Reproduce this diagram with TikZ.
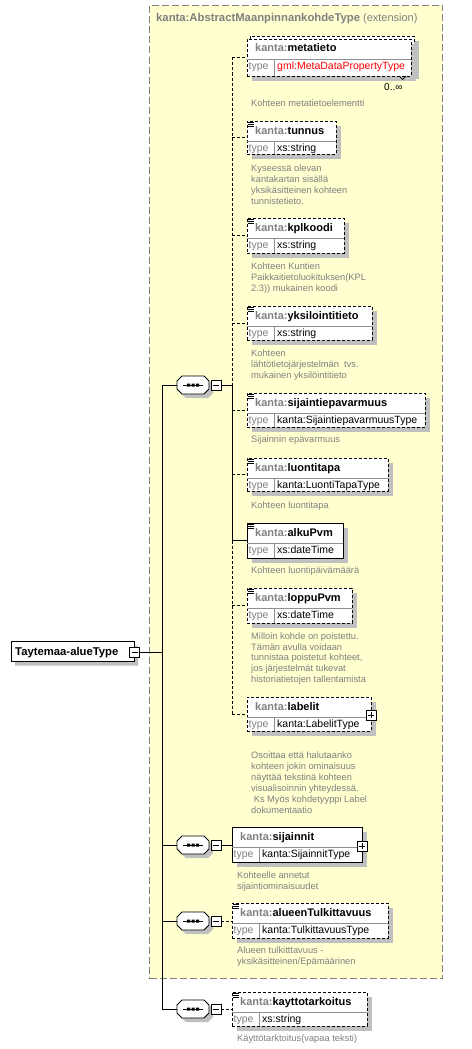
\documentclass[tikz,border=0pt]{standalone}
\usepackage{fontspec}
\setmainfont{Liberation Sans}
\usetikzlibrary{shapes.misc}
\definecolor{bgyel}{HTML}{FFFFD0}
\definecolor{shad}{HTML}{C0C0C0}
\definecolor{gtx}{HTML}{808080}
\definecolor{divc}{HTML}{909090}
\definecolor{redtype}{HTML}{FF0000}
\newcommand{\fname}{\fontsize{11}{13}\selectfont\bfseries}
\newcommand{\ftype}{\fontsize{10.5}{12}\selectfont}
\newcommand{\fdesc}{\fontsize{9.3}{11}\selectfont}
\newcommand{\dstrut}{\rule{0pt}{8.5pt}}
\tikzset{
  conn/.style={line width=0.9pt},
  optline/.style={conn, dash pattern=on 3pt off 2pt},
  elbox/.style={draw, fill=white, line width=0.9pt, inner sep=0pt, outer sep=0pt, anchor=north west},
  optbox/.style={elbox, dash pattern=on 3pt off 2pt},
  divline/.style={draw=divc, line width=0.7pt},
  desc/.style={text=gtx, font=\fdesc, align=left, anchor=north west, inner sep=0pt},
  iconbox/.style={draw, fill=white, line width=0.8pt, minimum size=10pt, inner sep=0pt, outer sep=0pt},
  compo/.style={minimum width=32pt, minimum height=18pt, inner sep=0pt, outer sep=0pt},
}
% element: id, x, ytop, width, height, boxstyle, name, type, typecolour
\newcommand{\xel}[9]{%
  \fill[shad] (#2+5,#3+5) rectangle (#2+#4+5,#3+#5+5);
  \node[#6, minimum width=#4pt, minimum height=#5pt] (#1) at (#2,#3) {};
  \draw[divline] (#2,#3+20) -- (#2+#4,#3+20) (#2+27,#3+20) -- (#2+27,#3+#5);
  \node[anchor=base west, inner sep=0pt, font=\fname] (#1-nm) at (#2+8,#3+13) {\textcolor{gtx}{kanta:}#7};
  \node[anchor=base west, inner sep=0pt, font=\ftype, text=gtx] (#1-tl) at (#2+1.5,#3+30.5) {type};
  \node[anchor=base west, inner sep=0pt, font=\ftype, text=#9] (#1-tv) at (#2+30,#3+30.5) {#8};
}
\newcommand{\docicon}[2]{\draw[line width=0.7pt] (#1+1,#2+1)--(#1+6.5,#2+1) (#1+1,#2+3)--(#1+6.5,#2+3) (#1+1,#2+5)--(#1+6.5,#2+5);}
\newcommand{\plusbox}[3]{\node[iconbox] (#1) at (#2,#3) {}; \draw[line width=0.8pt] (#2-3,#3)--(#2+3,#3) (#2,#3-3)--(#2,#3+3);}
\newcommand{\minusbox}[3]{\node[iconbox] (#1) at (#2,#3) {}; \draw[line width=0.8pt] (#2-3,#3)--(#2+3,#3);}
\newcommand{\octpath}[2]{(#1-11,#2-9) -- (#1+11,#2-9) -- (#1+16,#2-4) -- (#1+16,#2+4) -- (#1+11,#2+9) -- (#1-11,#2+9) -- (#1-16,#2+4) -- (#1-16,#2-4) -- cycle}
% compositor: id, cx, cy
\newcommand{\seqc}[3]{%
  \fill[shad] \octpath{#2+4}{#3+4};
  \draw[fill=white, line width=0.9pt] \octpath{#2}{#3};
  \node[compo] (#1) at (#2,#3) {};
  \draw[line width=0.9pt] (#2-10,#3) -- (#2+10,#3);
  \fill (#2-6,#3-1.5) rectangle ++(3,3) (#2-1.5,#3-1.5) rectangle ++(3,3) (#2+3,#3-1.5) rectangle ++(3,3);
  \minusbox{#1m}{#2+23}{#3}
}
\begin{document}
\begin{tikzpicture}[x=1pt,y=-1pt]
\useasboundingbox (0,0) rectangle (471,1049);
\fill[white] (0,0) rectangle (471,1049);
% extension area
\node[draw=gtx, fill=bgyel, line width=1pt, dash pattern=on 7pt off 3pt, anchor=north west, minimum width=293pt, minimum height=973pt, inner sep=0pt] (ext) at (149,5) {};
\node[anchor=base west, inner sep=0pt, text=gtx] (title) at (156,22) {\fontsize{11.3}{13}\selectfont\bfseries kanta:AbstractMaanpinnankohdeType\fontsize{11}{13}\selectfont\mdseries\ (extension)};
% junction coordinates
\coordinate (v1top) at (162,385);
\coordinate (v1bot) at (162,1009);
\coordinate (v2) at (232,385);
% root
\node[chamfered rectangle, chamfered rectangle corners={north west,south west}, chamfered rectangle xsep=3pt, fill=shad, minimum width=123pt, minimum height=20pt, inner sep=0pt, anchor=north west] (root-sh) at (15,645.5) {};
\node[chamfered rectangle, chamfered rectangle corners={north west,south west}, chamfered rectangle xsep=3pt, draw, fill=white, line width=0.9pt, minimum width=123pt, minimum height=20pt, inner sep=0pt, anchor=north west] (root) at (11,641.5) {};
\node[anchor=base west, inner sep=0pt, font=\fontsize{11.3}{13}\selectfont\bfseries] (roottxt) at (15,655.5) {Taytemaa-alueType};
\minusbox{rootm}{134.5}{652}
\draw[conn] (rootm.east) -- (rootm.east -| v1top);
\draw[conn] (v1top) -- (v1bot);
% compositors
\seqc{seq1}{193}{385}
\seqc{seq2}{193}{845}
\seqc{seq3}{193}{921}
\seqc{seq4}{193}{1009}
\draw[conn] (seq1.west -| v1top) -- (seq1.west);
\draw[conn] (seq2.west -| v1top) -- (seq2.west);
\draw[conn] (seq3.west -| v1top) -- (seq3.west);
\draw[conn] (seq4.west -| v1top) -- (seq4.west);
\draw[conn] (seq1m.east) -- (v2);
% elements in sequence 1
\fill[shad] (255,41) rectangle (419,79);
\node[optbox, minimum width=164pt, minimum height=37pt] (metaback) at (250,36) {};
\xel{metatieto}{247}{39}{164}{37}{optbox}{metatieto}{gml:MetaDataPropertyType}{redtype}
\draw[line width=0.7pt] (399,76) -- (402.5,79.5) -- (406,76);
\node[anchor=base west, inner sep=0pt, font=\fontsize{10}{12}\selectfont] (mult) at (384,90) {0..∞};
\xel{tunnus}{247}{121}{89}{33}{optbox}{tunnus}{xs:string}{black}\docicon{247}{121}
\xel{kplkoodi}{247}{218}{97}{35}{optbox}{kplkoodi}{xs:string}{black}\docicon{247}{218}
\xel{yksilointitieto}{247}{306}{125}{34}{optbox}{yksilointitieto}{xs:string}{black}\docicon{247}{306}
\xel{sijaintiepavarmuus}{247}{393}{178}{34}{optbox}{sijaintiepavarmuus}{kanta:SijaintiepavarmuusType}{black}\docicon{247}{393}
\xel{luontitapa}{247}{458}{141}{33}{optbox}{luontitapa}{kanta:LuontiTapaType}{black}\docicon{247}{458}
\xel{alkuPvm}{247}{523}{96}{35}{elbox}{alkuPvm}{xs:dateTime}{black}\docicon{247}{523}
\xel{loppuPvm}{247}{588}{105}{35}{optbox}{loppuPvm}{xs:dateTime}{black}\docicon{247}{588}
\xel{labelit}{247}{697}{124}{34}{optbox}{labelit}{kanta:LabelitType}{black}
\plusbox{labelitp}{371}{715}
% connectors of sequence 1
\draw[optline] (metatieto.west -| v2) -- (v2);
\draw[conn] (v2) -- (alkuPvm.west -| v2);
\draw[optline] (alkuPvm.west -| v2) -- (labelit.west -| v2);
\draw[optline] (metatieto.west -| v2) -- (metatieto.west);
\draw[optline] (tunnus.west -| v2) -- (tunnus.west);
\draw[optline] (kplkoodi.west -| v2) -- (kplkoodi.west);
\draw[optline] (yksilointitieto.west -| v2) -- (yksilointitieto.west);
\draw[optline] (sijaintiepavarmuus.west -| v2) -- (sijaintiepavarmuus.west);
\draw[optline] (luontitapa.west -| v2) -- (luontitapa.west);
\draw[conn] (alkuPvm.west -| v2) -- (alkuPvm.west);
\draw[optline] (loppuPvm.west -| v2) -- (loppuPvm.west);
\draw[optline] (labelit.west -| v2) -- (labelit.west);
% other elements
\xel{sijainnit}{232}{827}{130}{35}{elbox}{sijainnit}{kanta:SijainnitType}{black}
\plusbox{sijainnitp}{362}{846}
\xel{alueenTulkittavuus}{232}{903}{156}{35}{optbox}{alueenTulkittavuus}{kanta:TulkittavuusType}{black}\docicon{232}{903}
\xel{kayttotarkoitus}{232}{992}{135}{34}{optbox}{kayttotarkoitus}{xs:string}{black}\docicon{232}{992}
\draw[conn] (seq2m.east) -- (seq2m.east -| sijainnit.west);
\draw[optline] (seq3m.east) -- (seq3m.east -| alueenTulkittavuus.west);
\draw[optline] (seq4m.east) -- (seq4m.east -| kayttotarkoitus.west);
% descriptions
\node[desc] (d1) at (251,97.5) {\dstrut Kohteen metatietoelementti};
\node[desc] (d2) at (251,162.5) {\dstrut Kyseessä olevan\\kantakartan sisällä\\yksikäsitteinen kohteen\\tunnistetieto.};
\node[desc] (d3) at (251,260.5) {\dstrut Kohteen Kuntien\\Paikkaitietoluokituksen(KPL\\2.3)) mukainen koodi};
\node[desc] (d4) at (251,347.5) {\dstrut Kohteen\\lähtötietojärjestelmän\ \ tvs.\\mukainen yksilöintitieto};
\node[desc] (d5) at (251,433.5) {\dstrut Sijainnin epävarmuus};
\node[desc] (d6) at (251,499.5) {\dstrut Kohteen luontitapa};
\node[desc] (d7) at (251,564.5) {\dstrut Kohteen luontipäivämäärä};
\node[desc, font=\fontsize{9.3}{10.8}\selectfont] (d8) at (251,630.5) {\dstrut Milloin kohde on poistettu.\\Tämän avulla voidaan\\tunnistaa poistetut kohteet,\\jos järjestelmät tukevat\\historiatietojen tallentamista};
\node[desc] (d9) at (251,749.5) {\dstrut Osoittaa että halutaanko\\kohteen jokin ominaisuus\\näyttää tekstinä kohteen\\visualisoinnin yhteydessä.\\\hspace{2.6pt}Ks Myös kohdetyyppi Label\\dokumentaatio};
\node[desc] (d10) at (237,869.5) {\dstrut Kohteelle annetut\\sijaintiominaisuudet};
\node[desc] (d11) at (237,944.5) {\dstrut Alueen tulkitttavuus -\\yksikäsitteinen/Epämäärinen};
\node[desc] (d12) at (237,1032.5) {\dstrut Käyttötarktoitus(vapaa teksti)};
\end{tikzpicture}
\end{document}
